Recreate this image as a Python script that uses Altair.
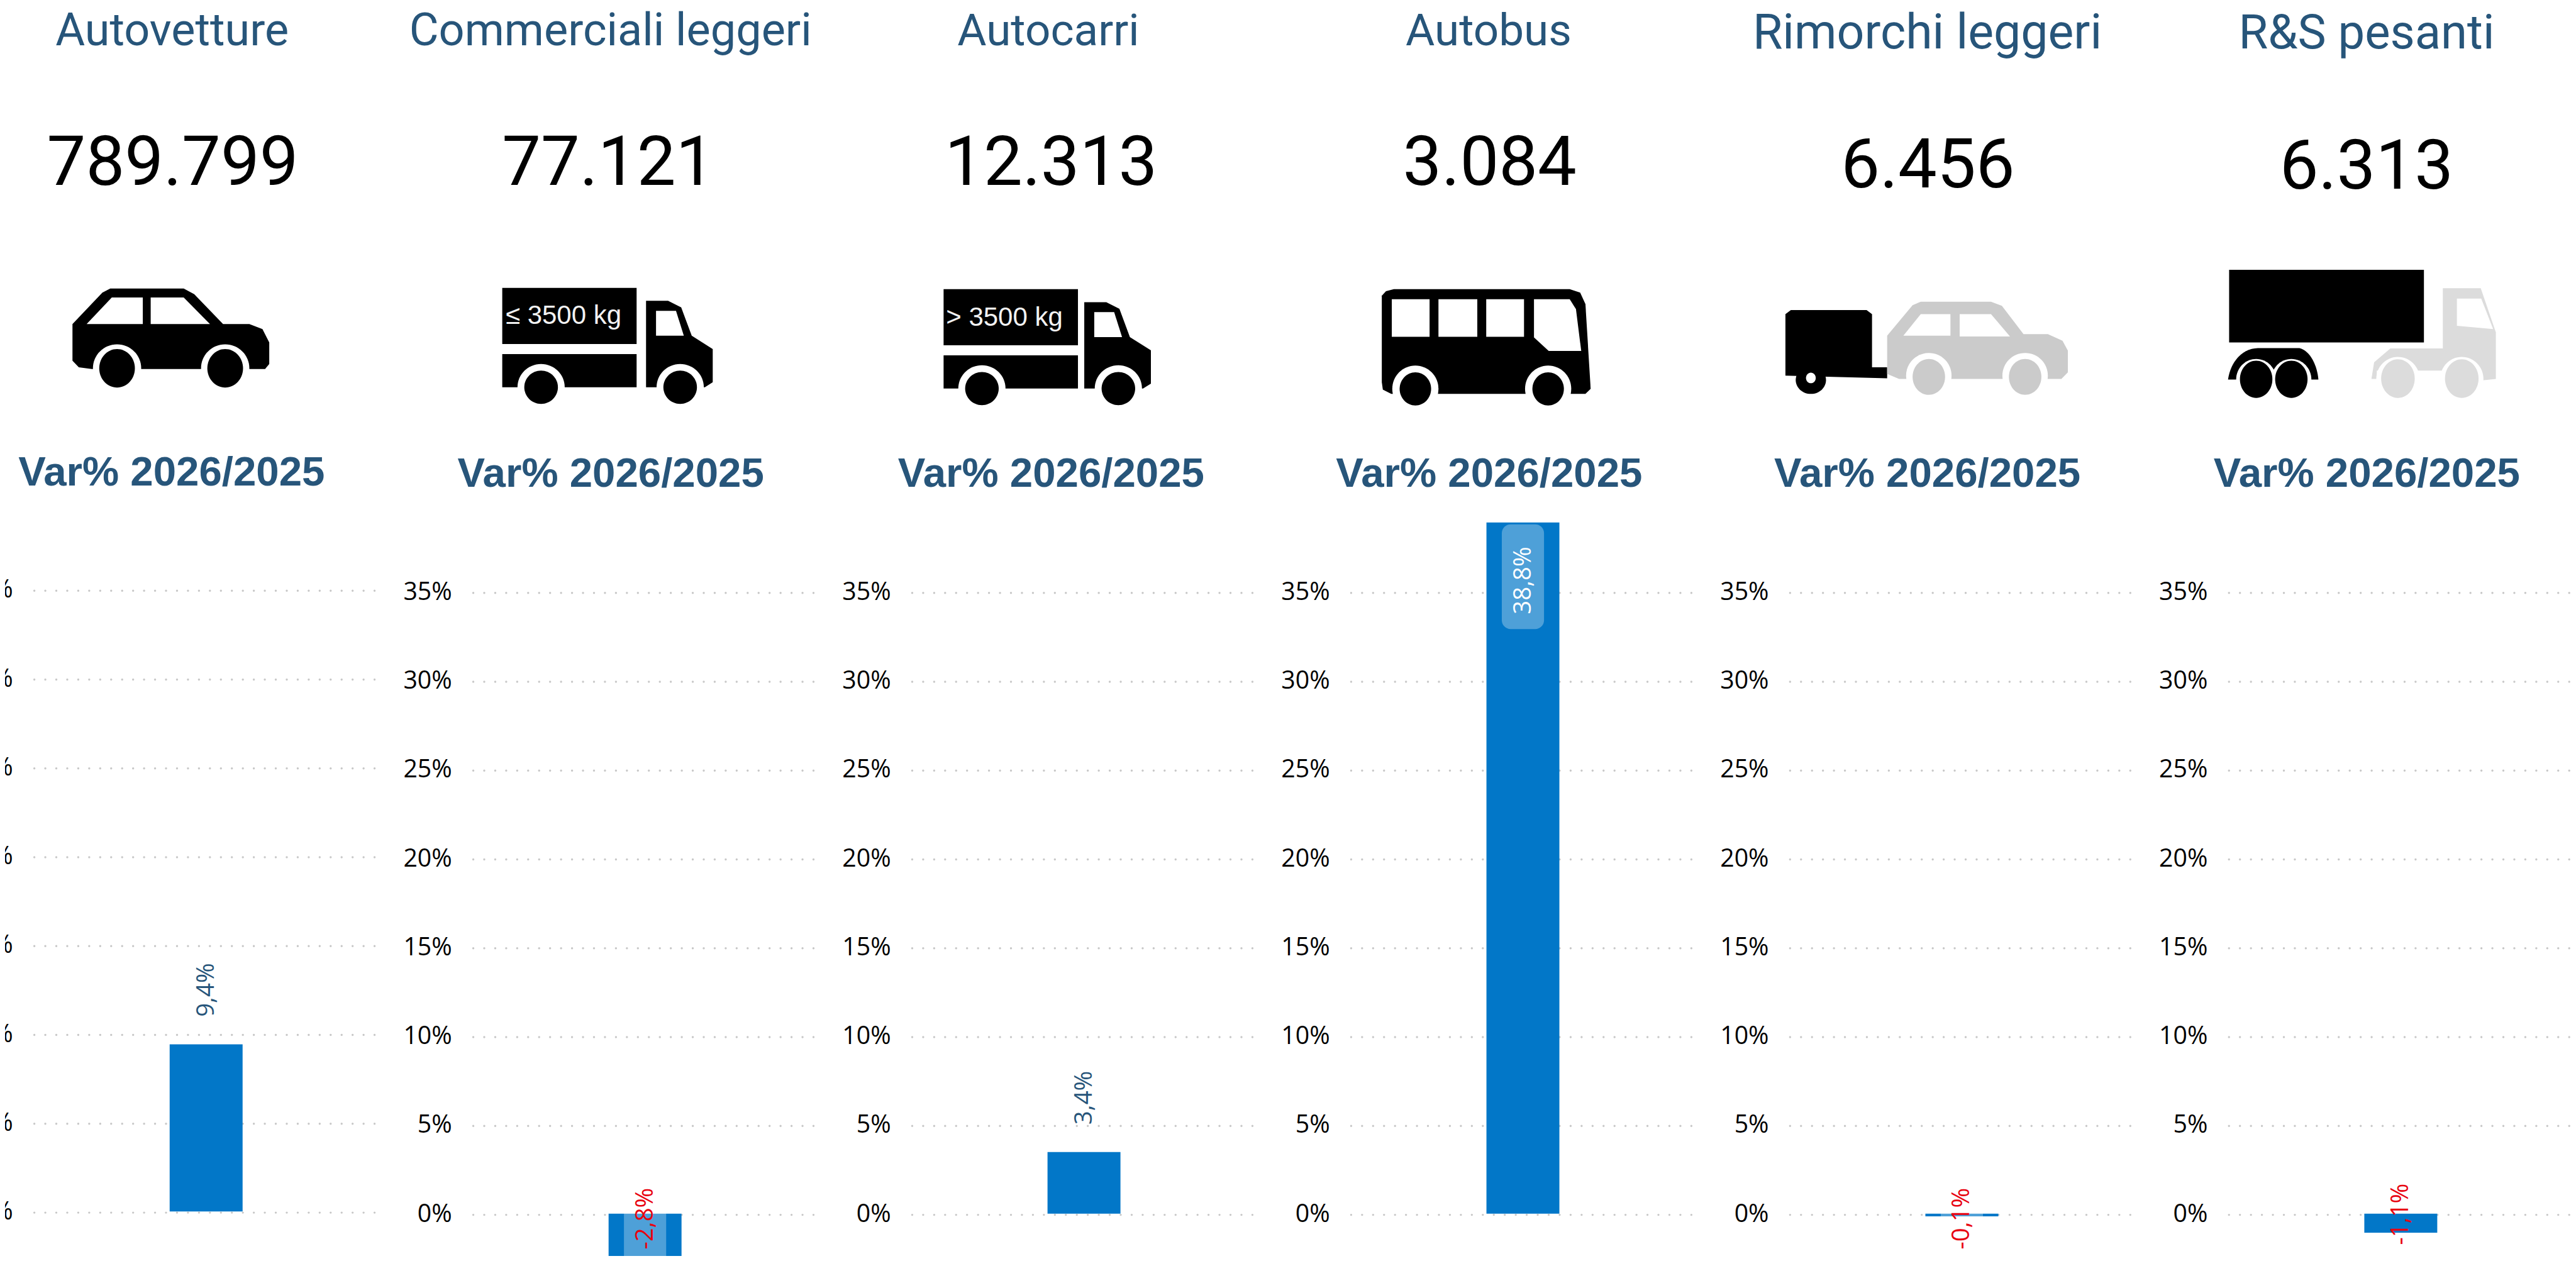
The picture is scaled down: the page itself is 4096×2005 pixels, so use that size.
import altair as alt
import pandas as pd

# ---------- chart values ----------
categories = ["Autovetture", "Commerciali leggeri", "Autocarri", "Autobus", "Rimorchi leggeri", "R&S pesanti"]
registrations = ["789.799", "77.121", "12.313", "3.084", "6.456", "6.313"]
variation = [9.41, -2.8, 3.47, 38.9, -0.15, -1.07]
variation_labels = ["9,4%", "-2,8%", "3,4%", "38,8%", "-0,1%", "-1,1%"]
ticks = [0, 5, 10, 15, 20, 25, 30, 35]
subtitle = "Var% 2026/2025"

# ---------- layout, expressed in reference pixels and scaled by K ----------
K = 4096 / 4697
W, H = 4080, 1989
FIRST, STEP = 371.0, 802.3
BASE_Y, PER_PCT = 2213.0, 32.4
BLUE, NAVY, RED = "#0277C8", "#27557A", "#E8000F"

def py(y):
    return K * y - 8

def pct(y):
    return (BASE_Y - y) / PER_PCT

x_scale = alt.Scale(domain=[(8 / K - FIRST) / STEP, ((W + 8) / K - FIRST) / STEP], range=[0, W], nice=False, zero=False)
y_scale = alt.Scale(domain=[pct((H + 8) / K), pct(8 / K)], range=[H, 0], nice=False, zero=False)
X = alt.X("panel:Q", scale=x_scale, axis=None)
Y = alt.Y("v:Q", scale=y_scale, axis=None)

panel_shift = [4 / PER_PCT, 0, 0, 0, 0, 0]

# ---------- icon drawing helpers ----------
def poly(pts):
    return [("M", pts[0])] + [("L", p) for p in pts[1:]] + [("Z",)]

def ellipse(cx, cy, rx, ry):
    c = 0.5523
    return [("M", (cx - rx, cy)),
            ("C", (cx - rx, cy - c * ry), (cx - c * rx, cy - ry), (cx, cy - ry)),
            ("C", (cx + c * rx, cy - ry), (cx + rx, cy - c * ry), (cx + rx, cy)),
            ("C", (cx + rx, cy + c * ry), (cx + c * rx, cy + ry), (cx, cy + ry)),
            ("C", (cx - c * rx, cy + ry), (cx - rx, cy + c * ry), (cx - rx, cy)),
            ("Z",)]

def render(cmds, panel, ox, sx, sy):
    """Turn zoom-view coordinates into a path around the panel's anchor, in reference pixels."""
    cx = FIRST + STEP * panel
    out = []
    for cmd in cmds:
        coords = " ".join(f"{ox + p[0] * sx - cx:.1f},{p[1] * sy - 8 / K:.1f}" for p in cmd[1:])
        out.append(cmd[0] + coords)
    return "".join(out)

icon_rows = []
def add(panel, ox, sx, parts):
    for cmds, color in parts:
        icon_rows.append({"panel": panel, "path": render(cmds, panel, ox, sx, 1 / 1.65), "color": color})

W_, B_ = "#FFFFFF", "#000000"
GREY1, GREY2 = "#CBCBCB", "#DCDCDC"

# car
add(0, 0, 1 / 1.045, [
    (poly([(133, 975), (190, 880), (205, 868), (345, 868), (365, 885), (420, 975), (470, 975), (495, 990), (508, 1030),
           (508, 1095), (500, 1110), (170, 1110), (145, 1105), (133, 1085)]), B_),
    (poly([(160, 975), (208, 895), (267, 895), (267, 975)]), W_),
    (poly([(282, 895), (345, 895), (395, 975), (282, 975)]), W_),
    (ellipse(218, 1108, 46, 72), W_), (ellipse(424, 1108, 46, 72), W_),
    (ellipse(218, 1108, 34, 58), B_), (ellipse(424, 1108, 34, 58), B_),
])

def truck(panel, ox, d, dy, cabd, w1, w2):
    add(panel, ox, 1 / 1.045, [
        (poly([(954 + d, 866 + dy), (1210 + d, 866 + dy), (1210 + d, 1035 + dy), (954 + d, 1035 + dy)]), B_),
        (poly([(954 + d, 1065 + dy), (1210 + d, 1065 + dy), (1210 + d, 1165 + dy), (954 + d, 1165 + dy)]), B_),
        (poly([(1228 + cabd, 905 + dy), (1270 + cabd, 905 + dy), (1295 + cabd, 925 + dy), (1315 + cabd, 1010 + dy),
               (1355 + cabd, 1050 + dy), (1355 + cabd, 1150 + dy), (1340 + cabd, 1165 + dy), (1228 + cabd, 1165 + dy)]), B_),
        (poly([(1247 + cabd, 935 + dy), (1285 + cabd, 935 + dy), (1300 + cabd, 1010 + dy), (1247 + cabd, 1010 + dy)]), W_),
        (ellipse(w1, 1165 + dy, 45, 70), W_), (ellipse(w2, 1165 + dy, 45, 70), W_),
        (ellipse(w1, 1165 + dy, 32, 50), B_), (ellipse(w2, 1165 + dy, 32, 50), B_),
    ])

truck(1, 0, 0, 0, 0, 1028, 1293)
truck(2, 1600, -829, 4, -835, 198, 458)

# bus
add(3, 1600, 1 / 1.045, [
    (poly([(985, 870), (1320, 870), (1340, 880), (1350, 915), (1360, 1170), (1350, 1185), (980, 1185), (964, 1172), (962, 1150),
           (962, 890), (970, 876)]), B_),
    (poly([(981, 900), (1053, 900), (1053, 1013), (981, 1013)]), W_),
    (poly([(1070, 900), (1144, 900), (1144, 1013), (1070, 1013)]), W_),
    (poly([(1161, 900), (1233, 900), (1233, 1013), (1161, 1013)]), W_),
    (poly([(1252, 900), (1320, 900), (1332, 930), (1342, 1056), (1280, 1056), (1252, 1015)]), W_),
    (ellipse(1026, 1170, 44, 70), W_), (ellipse(1279, 1170, 44, 70), W_),
    (ellipse(1026, 1170, 30, 50), B_), (ellipse(1279, 1170, 30, 50), B_),
])

# trailer and car
add(4, 3150, 1 / 1.0136, [
    (poly([(120, 933), (260, 933), (270, 945), (270, 1105), (298, 1105), (298, 1138), (110, 1130), (110, 945)]), B_),
    (ellipse(157, 1143, 28, 42), B_), (ellipse(157, 1137, 9, 16), W_),
    (poly([(298, 1010), (345, 918), (360, 908), (490, 908), (510, 920), (550, 1005), (595, 1005), (622, 1025), (632, 1055),
           (632, 1120), (620, 1140), (320, 1140), (298, 1125)]), GREY1),
    (poly([(328, 1010), (360, 945), (415, 945), (415, 1010)]), W_),
    (poly([(432, 945), (490, 945), (525, 1012), (432, 1012)]), W_),
    (ellipse(375, 1130, 42, 68), W_), (ellipse(553, 1130, 42, 68), W_),
    (ellipse(375, 1134, 30, 54), GREY1), (ellipse(553, 1134, 30, 54), GREY1),
])

# articulated truck
add(5, 3150, 1 / 1.0136, [
    (poly([(932, 812), (1292, 812), (1292, 1030), (932, 1030)]), B_),
    ([("M", (930, 1142)), ("C", (935, 1085), (958, 1048), (985, 1047)), ("L", (1062, 1047)),
      ("C", (1082, 1055), (1095, 1100), (1097, 1142)), ("Z",)], B_),
    (ellipse(982, 1142, 37, 62), W_), (ellipse(1047, 1142, 37, 62), W_),
    (ellipse(982, 1141, 30, 56), B_), (ellipse(1047, 1141, 30, 56), B_),
    (poly([(1327, 867), (1397, 867), (1425, 1000), (1425, 1140), (1395, 1145), (1395, 1115), (1205, 1115), (1205, 1140),
           (1195, 1140), (1200, 1090), (1230, 1048), (1327, 1048)]), GREY2),
    (poly([(1353, 898), (1398, 898), (1420, 990), (1353, 980)]), W_),
    (ellipse(1244, 1140, 40, 66), W_), (ellipse(1362, 1140, 40, 66), W_),
    (ellipse(1244, 1139, 31, 58), GREY2), (ellipse(1362, 1139, 31, 58), GREY2),
])

icons = pd.DataFrame(icon_rows)
icon_layer = alt.Chart(icons).mark_point(filled=True, opacity=1, size=4 * K * K, strokeWidth=0).encode(
    x=X, y=alt.value(0),
    shape=alt.Shape("path:N", scale=None),
    fill=alt.Fill("color:N", scale=None),
)

# ---------- gridlines and tick labels ----------
rows = [{"panel": i, "v": t + panel_shift[i], "lab": f"{t}%",
         "x1": i - 314 / STEP, "x2": i + 310 / STEP} for i in range(6) for t in ticks]
grid_df = pd.DataFrame(rows)
grid = alt.Chart(grid_df).mark_rule(color="#C8C8C8", strokeWidth=3.4, strokeCap="round",
                                    strokeDash=[0.01, 20 * K], yOffset=2 * K).encode(
    x=alt.X("x1:Q", scale=x_scale, axis=None), x2="x2:Q", y=Y)
tick_text = alt.Chart(grid_df).mark_text(font="Open Sans", fontSize=45 * K, fontWeight=400, color="#000000",
                                         align="right", baseline="middle", dx=-352 * K, yOffset=1 * K).encode(
    x=X, y=Y, text="lab:N")

# ---------- bars ----------
bar_df = pd.DataFrame({"panel": range(6), "v": [v + s for v, s in zip(variation, panel_shift)], "b": panel_shift})
bars = alt.Chart(bar_df).mark_bar(color=BLUE, size=133 * K, clip=True, orient="vertical").encode(x=X, y=Y, y2="b:Q")

# translucent label backgrounds, only visible over the bars
box_df = pd.DataFrame({"panel": [1, 3, 4], "v": [pct(2122), pct(956), pct(2122)], "b": [pct(2305), pct(1147), pct(2305)]})
boxes = alt.Chart(box_df).mark_bar(color="#FFFFFF", opacity=0.3, size=77 * K, cornerRadius=16 * K, clip=True,
                                   orient="vertical").encode(x=X, y=Y, y2="b:Q")

# ---------- data labels ----------
def data_label(panel, color, bottom=None):
    df = pd.DataFrame({"panel": [panel], "v": [bar_df.v[panel]], "t": [variation_labels[panel]]})
    kw = dict(font="Open Sans", fontSize=44 * K, color=color, angle=270, align="left", baseline="middle")
    if bottom is None:
        return alt.Chart(df).mark_text(dx=50 * K, **kw).encode(x=X, y=Y, text="t:N")
    return alt.Chart(df).mark_text(**kw).encode(x=X, y=alt.value(py(bottom)), text="t:N")

labels = [data_label(0, NAVY), data_label(1, RED, 2278), data_label(2, NAVY),
          data_label(3, "#FFFFFF", 1120), data_label(4, RED, 2278), data_label(5, RED, 2270)]

# ---------- header rows ----------
title_y = [83, 83, 83, 83, 88, 88]
title_dx = [-62, -63, -65, -62.6, -63, -62.5]
title_size = [72, 72, 71, 71, 77, 76]
number_y = [337.6, 337, 337, 337, 342, 344]
number_dx = [-61, -67, -60, -60.6, -62, -62.5]
sub_y = [885, 888, 888, 888, 888, 888]
sub_dx = [-63, -62.5, -60, -61.6, -63, -62]

header = []
for i in range(6):
    d = pd.DataFrame({"panel": [i], "t": [categories[i]], "n": [registrations[i]], "s": [subtitle]})
    header.append(alt.Chart(d).mark_text(font="Roboto", fontSize=title_size[i], color=NAVY, baseline="alphabetic", dx=title_dx[i] * K)
                  .encode(x=X, y=alt.value(py(title_y[i])), text="t:N"))
    header.append(alt.Chart(d).mark_text(font="Roboto", fontSize=110, color="#000000", baseline="alphabetic", dx=number_dx[i] * K)
                  .encode(x=X, y=alt.value(py(number_y[i])), text="n:N"))
    header.append(alt.Chart(d).mark_text(font="Liberation Sans", fontWeight="bold", fontSize=65.4, color=NAVY,
                                         baseline="alphabetic", dx=sub_dx[i] * K)
                  .encode(x=X, y=alt.value(py(sub_y[i])), text="s:N"))

# weight classes printed on the two lorry boxes
def box_text(panel, text, left, base):
    d = pd.DataFrame({"panel": [panel], "t": [text]})
    return alt.Chart(d).mark_text(font="Liberation Sans", fontSize=42, color="#F2F2F2", align="left", baseline="alphabetic",
                                  dx=(left - (FIRST + STEP * panel)) * K).encode(
        x=X, y=alt.value(py(base)), text="t:N")

weights = [box_text(1, "≤ 3500 kg", 919, 591), box_text(2, "> 3500 kg", 1724, 594)]

chart = alt.layer(grid, tick_text, bars, boxes, *labels, icon_layer, *weights, *header).properties(
    width=W, height=H, padding=0, autosize=alt.AutoSizeParams(type="none"), background="#FFFFFF"
).configure_view(stroke=None)

chart.save("out.html", embed_options={"renderer": "svg", "actions": False})
